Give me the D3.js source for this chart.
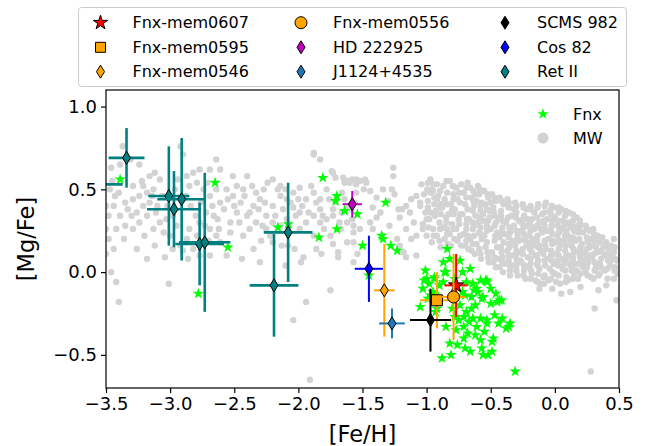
<!DOCTYPE html>
<html>
<head>
<meta charset="utf-8">
<script src="https://cdn.jsdelivr.net/npm/d3@7"></script>
<style>
  body { margin: 0; background: #fff; }
  text { font-family: "DejaVu Sans", sans-serif; fill: #000; }
</style>
</head>
<body>
<div id="chart"></div>
<script>
// Milky Way comparison stars [Fe/H, Mg/Fe]
const mwStars = [
  [-3.37,0.76],[-3.46,0.63],[-3.39,0.65],[-3.31,0.68],[-3.24,0.65],[-3.47,0.50],[-3.43,0.46],[-3.50,0.40],[-3.44,0.40],[-3.35,0.42],
  [-3.29,0.44],[-3.30,0.34],[-3.39,0.34],[-3.48,0.34],[-3.42,0.26],[-3.35,0.28],[-3.50,0.26],[-3.50,0.11],[-3.46,0.00],[-3.42,-0.06],
  [-3.40,-0.18],[-3.29,0.52],[-3.21,0.52],[-3.16,0.58],[-3.12,0.60],[-3.08,0.56],[-3.13,0.50],[-3.18,0.48],[-3.24,0.46],[-3.21,0.40],
  [-3.16,0.42],[-3.11,0.36],[-3.18,0.34],[-3.24,0.30],[-3.29,0.26],[-3.20,0.22],[-3.13,0.26],[-3.08,0.30],[-3.03,0.32],[-3.05,0.24],
  [-3.00,0.22],[-3.18,0.08],[-3.04,0.09],[-3.01,-0.07],[-2.92,0.76],[-2.90,0.71],[-2.87,0.58],[-2.82,0.60],[-2.85,0.52],[-2.79,0.54],
  [-2.77,0.62],[-2.69,0.62],[-2.64,0.68],[-2.61,0.62],[-2.74,0.50],[-2.69,0.46],[-2.64,0.50],[-2.56,0.50],[-2.61,0.42],[-2.72,0.36],
  [-2.66,0.34],[-2.77,0.30],[-2.85,0.26],[-2.79,0.22],[-2.69,0.26],[-2.64,0.22],[-2.61,0.18],[-2.87,0.20],[-2.92,0.16],[-2.90,0.13],
  [-2.82,0.14],[-2.69,0.10],[-2.77,0.10],[-2.70,0.19],[-2.62,0.26],[-2.51,0.46],[-2.48,0.52],[-2.51,0.58],[-2.40,0.58],[-2.43,0.50],
  [-2.45,0.42],[-2.48,0.36],[-2.53,0.30],[-2.40,0.34],[-2.35,0.40],[-2.33,0.48],[-2.27,0.50],[-2.30,0.44],[-2.38,0.26],[-2.43,0.22],
  [-2.35,0.14],[-2.29,0.19],[-2.22,0.22],[-2.20,0.30],[-2.25,0.34],[-2.20,0.40],[-2.14,0.46],[-2.09,0.44],[-2.20,0.56],[-2.14,0.52],
  [-2.10,0.50],[-2.04,0.48],[-1.99,0.51],[-2.04,0.39],[-1.99,0.36],[-1.94,0.44],[-1.88,0.48],[-1.83,0.44],[-1.78,0.50],[-1.83,0.38],
  [-1.88,0.34],[-1.94,0.30],[-1.99,0.26],[-1.88,0.22],[-1.83,0.30],[-1.78,0.32],[-1.73,0.34],[-1.73,0.38],[-1.68,0.30],[-1.75,0.22],
  [-1.73,0.17],[-1.69,0.12],[-1.82,0.11],[-1.96,0.09],[-2.03,0.14],[-1.83,0.68],[-1.73,0.60],[-1.88,0.72],[-1.65,0.57],[-1.60,0.54],
  [-1.55,0.48],[-1.55,0.56],[-1.59,0.38],[-1.62,0.30],[-1.57,0.24],[-1.62,0.18],[-1.94,-0.18],[-2.04,-0.29],[-1.75,-0.11],[-1.91,-0.65],
  [-2.14,0.28],[-2.09,0.32],[-2.20,0.18],[-2.13,0.16],[-2.08,0.16],[-2.25,0.26],
  [-3.45,0.55],[-3.40,0.48],[-3.33,0.38],[-3.26,0.36],[-3.22,0.55],[-3.14,0.46],[-3.10,0.40],[-3.06,0.46],[-3.02,0.40],[-2.98,0.34],
  [-2.95,0.28],[-2.96,0.50],[-2.94,0.56],[-2.88,0.46],[-2.84,0.40],[-2.80,0.34],[-2.76,0.42],[-2.73,0.28],[-2.71,0.54],[-2.67,0.40],
  [-2.63,0.32],[-2.58,0.38],[-2.55,0.44],[-2.53,0.24],[-2.50,0.40],[-2.46,0.30],[-2.42,0.46],[-2.38,0.36],[-2.36,0.52],[-2.33,0.30],
  [-2.31,0.38],[-2.28,0.28],[-2.26,0.42],[-2.24,0.54],[-2.18,0.34],[-2.16,0.50],[-2.12,0.38],[-2.07,0.28],[-2.06,0.42],[-2.02,0.34],
  [-2.00,0.44],[-1.97,0.40],[-1.92,0.36],[-1.90,0.52],[-1.86,0.42],[-1.81,0.34],[-1.80,0.26],[-1.76,0.44],[-1.71,0.42],[-1.69,0.26],
  [-1.66,0.36],[-1.64,0.44],[-1.58,0.32],[-1.56,0.42],[-3.36,0.20],[-3.26,0.14],[-3.12,0.16],[-2.98,0.14],[-2.86,0.08],[-2.56,0.10],
  [-2.44,0.08],[-2.30,0.06],[-2.10,0.04],[-1.98,0.06],[-1.86,0.14],[-3.48,0.20],[-3.44,0.14],
  [-1.64,0.54],[-1.58,0.56],[-1.53,0.55],[-1.48,0.56],[-1.55,0.53],[-1.49,0.50],[-1.44,0.49],[-1.34,0.50],[-1.26,0.63],[-1.26,0.58],
  [-1.27,0.50],[-1.25,0.47],[-1.22,0.38],[-1.19,0.38],[-1.16,0.40],[-1.12,0.44],[-1.08,0.46],[-1.05,0.42],[-1.13,0.36],[-1.10,0.30],
  [-1.16,0.26],[-1.08,0.22],[-1.03,0.26],[-1.00,0.32],[-0.97,0.36],[-0.97,0.48],[-0.99,0.54],[-0.95,0.49],[-0.92,0.44],[-0.90,0.39],
  [-1.57,0.18],[-1.52,0.26],[-1.44,0.30],[-1.39,0.33],[-1.42,0.26],[-1.29,0.28],[-1.23,0.20],[-1.21,0.16],[-1.18,0.12],[-1.16,0.09],
  [-1.08,0.10],[-1.12,0.20],[-1.42,0.39],[-1.36,0.36],[-1.57,0.28],[-1.62,0.38],[-1.39,0.45],[-1.21,0.33],[-1.30,0.43],[-1.67,0.26],
  [-1.66,0.48],[-1.88,0.71],[-1.74,0.61],[-1.71,0.57],[-1.62,0.55],[-1.52,0.55],[-1.47,0.54],[-1.69,0.09],[-1.57,0.06],[-1.54,0.11],
  [-1.04,0.53],[-1.02,0.47],[-1.05,0.40],[-1.01,0.36],[-1.03,0.29],[-1.00,0.22],[-0.99,0.43],
  [-0.97,0.56],[-0.96,0.50],[-0.98,0.32],[-0.95,0.26],[-0.96,0.18],[-0.94,0.41],
  [-0.92,0.53],[-0.91,0.46],[-0.93,0.37],[-0.90,0.30],[-0.92,0.22],[-0.89,0.15],
  [-0.87,0.52],[-0.86,0.44],[-0.88,0.39],[-0.85,0.33],[-0.87,0.27],[-0.86,0.20],[-0.84,0.48],
  [-0.82,0.55],[-0.81,0.41],[-0.83,0.35],[-0.80,0.29],[-0.82,0.23],[-0.81,0.16],[-0.79,0.47],
  [-0.77,0.51],[-0.76,0.44],[-0.78,0.38],[-0.75,0.32],[-0.77,0.26],[-0.76,0.19],[-0.74,0.22],[-0.73,0.53],
  [-0.71,0.48],[-0.70,0.41],[-0.72,0.35],[-0.69,0.29],[-0.71,0.23],[-0.70,0.16],[-0.68,0.54],[-0.68,0.38],
  [-0.66,0.51],[-0.65,0.45],[-0.67,0.32],[-0.64,0.26],[-0.66,0.20],[-0.65,0.13],[-0.63,0.40],[-0.62,0.34],
  [-0.60,0.52],[-0.59,0.47],[-0.61,0.43],[-0.58,0.37],[-0.60,0.30],[-0.59,0.24],[-0.61,0.17],[-0.58,0.11],[-0.57,0.20],
  [-0.55,0.49],[-0.54,0.41],[-0.56,0.35],[-0.53,0.28],[-0.55,0.22],[-0.54,0.15],[-0.52,0.09],[-0.52,0.45],[-0.51,0.33],
  [-0.49,0.47],[-0.48,0.39],[-0.50,0.26],[-0.47,0.19],[-0.49,0.12],[-0.48,0.06],[-0.46,0.43],[-0.46,0.30],[-0.45,0.24],
  [-0.43,0.45],[-0.42,0.37],[-0.44,0.33],[-0.41,0.27],[-0.43,0.21],[-0.42,0.15],[-0.41,0.09],[-0.43,0.03],[-0.40,0.41],[-0.40,0.18],
  [-0.37,0.44],[-0.36,0.39],[-0.38,0.30],[-0.35,0.24],[-0.37,0.13],[-0.36,0.07],[-0.35,0.01],[-0.34,0.34],[-0.33,0.19],[-0.33,0.10],
  [-0.31,0.42],[-0.30,0.36],[-0.32,0.28],[-0.29,0.22],[-0.31,0.16],[-0.30,0.04],[-0.29,-0.02],[-0.28,0.31],[-0.27,0.12],[-0.27,0.07],
  [-0.25,0.41],[-0.24,0.34],[-0.26,0.25],[-0.23,0.19],[-0.25,0.14],[-0.24,0.01],[-0.23,-0.04],[-0.22,0.38],[-0.22,0.28],[-0.21,0.09],
  [-0.19,0.40],[-0.18,0.32],[-0.20,0.22],[-0.17,0.16],[-0.19,0.05],[-0.18,-0.01],[-0.16,0.36],[-0.16,0.26],[-0.15,0.10],[-0.15,-0.05],
  [-0.13,0.41],[-0.12,0.30],[-0.14,0.19],[-0.11,0.13],[-0.13,0.07],[-0.12,0.02],[-0.10,0.35],[-0.10,0.24],[-0.09,-0.03],[-0.11,-0.07],
  [-0.07,0.42],[-0.06,0.32],[-0.08,0.28],[-0.05,0.20],[-0.07,0.14],[-0.06,0.08],[-0.04,0.37],[-0.04,0.02],[-0.03,0.25],[-0.05,-0.05],
  [-0.01,0.39],[0.00,0.33],[-0.02,0.17],[0.01,0.11],[-0.01,0.05],[0.00,-0.01],[0.02,0.28],[0.02,0.22],[0.03,0.14],[0.01,-0.06],
  [0.05,0.38],[0.06,0.31],[0.04,0.25],[0.07,0.19],[0.05,0.08],[0.06,0.02],[0.08,0.34],[0.08,0.13],[0.09,-0.03],[0.04,-0.07],
  [0.11,0.36],[0.12,0.27],[0.10,0.22],[0.13,0.16],[0.11,0.10],[0.12,0.04],[0.14,0.31],[0.14,0.07],[0.15,-0.01],[0.10,-0.05],
  [0.17,0.33],[0.18,0.24],[0.16,0.19],[0.19,0.13],[0.17,0.01],[0.20,0.29],[0.20,0.08],[0.21,0.17],[0.18,-0.04],[0.22,0.03],
  [0.24,0.28],[0.25,0.21],[0.23,0.12],[0.26,0.06],[0.24,0.00],[0.27,0.25],[0.27,0.15],[0.28,-0.03],[0.25,0.10],
  [0.30,0.26],[0.31,0.19],[0.29,0.09],[0.32,0.03],[0.33,0.22],[0.33,0.12],[0.34,-0.02],[0.31,0.06],
  [0.37,0.21],[0.38,0.15],[0.36,0.08],[0.39,0.01],[0.40,0.18],[0.40,0.10],[0.41,-0.04],
  [0.44,0.16],[0.45,0.09],[0.43,0.04],[0.46,0.12],[0.47,0.03],[0.48,0.07],[0.49,-0.01],[0.46,0.20],
  [-0.58,0.27],[-0.56,0.31],[-0.53,0.18],[-0.51,0.37],[-0.47,0.34],[-0.45,0.15],[-0.44,0.08],[-0.41,0.31],[-0.39,0.23],[-0.39,0.05],
  [-0.36,0.17],[-0.34,0.27],[-0.33,0.04],[-0.32,0.38],[-0.30,0.13],[-0.28,0.19],[-0.26,0.30],[-0.26,0.06],[-0.24,0.23],[-0.22,0.16],
  [-0.21,0.32],[-0.20,0.03],[-0.18,0.12],[-0.17,0.27],[-0.17,0.20],[-0.14,0.33],[-0.14,0.05],[-0.12,0.16],[-0.11,0.26],[-0.09,0.11],
  [-0.08,0.19],[-0.08,0.36],[-0.06,0.25],[-0.03,0.10],[-0.02,0.31],[-0.02,0.23],[0.01,0.18],[0.02,0.07],[0.03,0.36],[0.04,0.16],
  [0.06,0.27],[0.07,0.05],[0.08,0.22],[0.09,0.10],[0.10,0.30],[0.12,0.19],[0.13,0.01],[0.15,0.25],[0.15,0.12],[0.16,0.05],
  [0.18,0.28],[0.19,0.20],[0.21,0.11],[0.22,0.24],[0.23,0.06],[0.26,0.18],[0.28,0.10],[0.29,0.20],[0.32,0.15],[0.35,0.18],
  [0.35,0.05],[0.38,0.11],[0.42,0.14],[0.43,0.07],[-0.63,0.22],[-0.62,0.47],[-0.57,0.42],[-0.50,0.42],[-0.74,0.42],[-0.79,0.35],
  [-0.84,0.26],[-0.89,0.35],[-0.69,0.19],[-0.64,0.30],
  [-0.12,-0.10],[0.12,-0.12],[0.34,-0.11],[0.31,-0.22],[0.48,-0.17],[0.46,-0.04],[0.28,-0.60],[-0.02,-0.10],[0.05,-0.13],[0.20,-0.09],
  [0.40,-0.08],
  [-0.995,0.50],[-0.99,0.39],[-0.985,0.27],[-0.945,0.53],[-0.94,0.45],[-0.935,0.34],[-0.945,0.22],[-0.895,0.49],[-0.89,0.41],[-0.895,0.26],
  [-0.90,0.19],[-0.845,0.55],[-0.84,0.41],[-0.845,0.30],[-0.84,0.23],[-0.835,0.17],[-0.795,0.52],[-0.79,0.44],[-0.80,0.38],[-0.79,0.26],
  [-0.785,0.20],[-0.745,0.48],[-0.74,0.35],[-0.745,0.29],[-0.73,0.16],[-0.69,0.51],[-0.69,0.45],[-0.685,0.32],[-0.69,0.26],[-0.68,0.22],
  [-0.675,0.14],[-0.635,0.49],[-0.635,0.43],[-0.64,0.37],[-0.63,0.28],[-0.64,0.17],[-0.625,0.11],[-0.585,0.50],[-0.58,0.40],[-0.585,0.33],
  [-0.58,0.23],[-0.59,0.14],[-0.575,0.08],[-0.525,0.47],[-0.53,0.38],[-0.52,0.31],[-0.53,0.25],[-0.525,0.12],[-0.515,0.06],[-0.47,0.45],
  [-0.475,0.36],[-0.47,0.28],[-0.465,0.22],[-0.47,0.09],[-0.46,0.03],[-0.415,0.43],[-0.42,0.34],[-0.41,0.24],[-0.415,0.12],[-0.41,0.06],
  [-0.405,0.00],[-0.36,0.42],[-0.365,0.33],[-0.355,0.27],[-0.36,0.21],[-0.355,0.15],[-0.36,0.10],[-0.35,0.04],[-0.35,-0.02],[-0.30,0.40],
  [-0.305,0.33],[-0.30,0.25],[-0.295,0.19],[-0.305,0.10],[-0.295,0.07],[-0.30,0.01],[-0.245,0.39],[-0.25,0.32],[-0.245,0.27],[-0.24,0.20],
  [-0.25,0.11],[-0.24,0.04],[-0.245,-0.02],[-0.19,0.38],[-0.195,0.30],[-0.19,0.25],[-0.185,0.18],[-0.195,0.14],[-0.19,0.08],[-0.185,0.01],
  [-0.19,-0.04],[-0.135,0.39],[-0.14,0.28],[-0.135,0.22],[-0.13,0.15],[-0.14,0.10],[-0.135,0.04],[-0.13,-0.01],[-0.135,-0.06],[-0.08,0.40],
  [-0.085,0.31],[-0.08,0.25],[-0.075,0.16],[-0.08,0.07],[-0.075,0.04],[-0.08,-0.02],[-0.085,-0.07],[-0.025,0.40],[-0.03,0.35],[-0.025,0.28],
  [-0.02,0.19],[-0.03,0.13],[-0.025,0.07],[-0.02,0.00],[-0.03,-0.04],[0.03,0.39],[0.025,0.31],[0.03,0.24],[0.035,0.19],[0.03,0.10],
  [0.025,0.04],[0.03,-0.02],[0.085,0.37],[0.08,0.29],[0.09,0.25],[0.085,0.16],[0.09,0.07],[0.08,0.01],[0.085,-0.06],[0.14,0.35],
  [0.135,0.28],[0.14,0.21],[0.145,0.14],[0.14,0.09],[0.135,0.02],[0.14,-0.04],[0.195,0.31],[0.19,0.26],[0.20,0.15],[0.195,0.10],
  [0.19,0.05],[0.20,-0.01],[0.25,0.26],[0.255,0.19],[0.25,0.14],[0.245,0.08],[0.25,0.03],[0.255,-0.02],[0.305,0.23],[0.30,0.16],
  [0.305,0.11],[0.31,0.01],[0.30,-0.04],[0.355,0.21],[0.355,0.13],[0.36,0.03],[0.35,-0.01],[0.41,0.16],[0.415,0.07],[0.41,0.02],
  [0.42,0.11],[0.465,0.15],[0.47,0.08],[0.465,0.01]
];

// Fornax stars [Fe/H, Mg/Fe]
const fnxStars = [
  [-3.39,0.56],[-2.65,0.54],[-2.55,0.15],[-2.78,-0.13],[-2.16,0.27],[-2.08,0.29],[-1.81,0.57],[-1.70,0.46],[-1.71,0.43],[-1.64,0.37],
  [-1.84,0.21],[-1.70,0.26],[-1.54,0.35],[-1.50,0.16],[-1.32,0.42],[-1.35,0.22],[-1.34,0.20],[-1.28,0.16],[-1.23,0.13],[-1.45,-0.02],
  [-0.84,0.14],[-0.87,0.06],[-0.82,0.08],[-0.74,0.07],[-1.01,0.01],[-1.00,-0.04],[-0.94,-0.04],[-0.94,-0.03],[-0.86,0.00],[-0.85,0.00],
  [-0.78,-0.04],[-0.69,-0.06],[-0.64,-0.07],[-0.58,-0.05],[-0.53,-0.05],[-0.54,-0.05],[-0.53,-0.06],[-0.90,-0.08],[-1.03,-0.10],[-0.99,-0.16],
  [-0.97,-0.14],[-0.70,-0.14],[-0.65,-0.15],[-0.56,-0.15],[-0.57,-0.16],[-0.61,-0.10],[-0.50,-0.19],[-0.45,-0.18],[-0.43,-0.17],[-0.415,-0.17],
  [-0.74,-0.20],[-0.69,-0.24],[-0.65,-0.22],[-0.71,-0.27],[-0.64,-0.28],[-0.58,-0.28],[-0.53,-0.29],[-0.53,-0.31],[-0.44,-0.31],[-0.35,-0.31],
  [-0.38,-0.34],[-0.36,-0.33],[-0.75,-0.29],[-0.71,-0.33],[-0.77,-0.35],[-0.68,-0.37],[-0.71,-0.40],[-0.58,-0.41],[-0.48,-0.40],[-0.49,-0.42],
  [-0.82,-0.43],[-0.66,-0.48],[-0.57,-0.46],[-0.52,-0.50],[-0.49,-0.48],[-0.56,-0.50],[-0.81,-0.50],[-0.88,-0.52],[-0.31,-0.60],[-0.92,-0.22],
  [-1.05,-0.21],[-0.93,-0.24],[-0.87,-0.06],[-0.63,-0.11],[-0.60,-0.12],[-0.62,-0.20],
  [-0.98,-0.07],[-0.95,-0.12],[-0.91,-0.15],[-0.80,-0.22],[-0.78,-0.27],[-0.72,-0.12],[-0.67,-0.30],[-0.61,-0.33],[-0.55,-0.36],[-0.62,-0.38],
  [-0.47,-0.26],[-0.41,-0.28],[-0.50,-0.10],[-0.46,-0.13],[-0.76,-0.44],[-0.70,-0.46],[-0.85,-0.33],[-1.02,-0.05],[-0.66,0.02],[-0.72,0.00]
];

// individual stars with error bars
const starNames = ['Fnx-mem0607','Fnx-mem0595','Fnx-mem0546','Fnx-mem0556','HD 222925','J1124+4535','SCMS 982','Cos 82'];
const starFeH    = [-0.77, -0.92, -1.33, -0.79, -1.58, -1.27, -0.97, -1.45];
const starMgFe   = [-0.08, -0.17, -0.11, -0.15,  0.41, -0.31, -0.29,  0.02];
const starFeHErr = [ 0.09,  0.13,  0.08,  0.09,  0.075, 0.10,  0.16,  0.11];
const starMgFeErr= [ 0.19,  0.17,  0.28,  0.26,  0.08,  0.09,  0.19,  0.20];

// Ret II stars
const retFeH     = [-3.34, -3.01, -2.91, -2.97, -2.77, -2.73, -2.08, -2.19, -3.62];
const retMgFe    = [ 0.69,  0.46,  0.44,  0.38,  0.17,  0.18,  0.24, -0.08,  0.53];
const retFeHErr  = [ 0.14,  0.16,  0.19,  0.21,  0.19,  0.20,  0.19,  0.19,  0.25];
const retMgFeErr = [ 0.18,  0.30,  0.37,  0.23,  0.25,  0.42,  0.30,  0.31,  0.25];

const xTicks = [-3.5, -3.0, -2.5, -2.0, -1.5, -1.0, -0.5, 0.0, 0.5];
const yTicks = [-0.5, 0.0, 0.5, 1.0];

// styles
const starColors  = ['red', 'orange', 'orange', 'orange', '#bf00bf', '#1f77b4', 'black', 'blue'];
const starMarkers = ['star', 'square', 'diamond', 'circle', 'diamond', 'diamond', 'diamond', 'diamond'];
const retColor = 'teal';

const W = 647, H = 446,
      L = 106, R = 619, T = 90, B = 388;

const x = d3.scaleLinear().domain([-3.5, 0.5]).range([L, R]),
      y = d3.scaleLinear().domain([-0.7, 1.1]).range([B, T]);

function starPath(r) {
  let p = [];
  for (let i = 0; i < 10; i++) {
    let a = Math.PI / 5 * i - Math.PI / 2,
        rr = i % 2 ? r * 0.382 : r;
    p.push([rr * Math.cos(a), rr * Math.sin(a)]);
  }
  return 'M' + p.join('L') + 'Z';
}
function diamondPath(h) {
  let w = h * 0.62;
  return `M0,${-h/2}L${w/2},0L0,${h/2}L${-w/2},0Z`;
}
function markerPath(kind, big) {
  if (kind === 'star') return starPath(big ? 8 : 7.5);
  if (kind === 'square') return 'M-5.5,-5.5H5.5V5.5H-5.5Z';
  if (kind === 'circle') return d3.symbol(d3.symbolCircle, Math.PI * 36)();
  return diamondPath(13);
}

const svg = d3.select('#chart').append('svg')
  .attr('width', W).attr('height', H)
  .attr('viewBox', `0 0 ${W} ${H}`);

svg.append('rect').attr('width', W).attr('height', H).attr('fill', '#fff');

svg.append('defs').append('clipPath').attr('id', 'plotclip')
  .append('rect').attr('x', L).attr('y', T).attr('width', R - L).attr('height', B - T);

const plot = svg.append('g').attr('clip-path', 'url(#plotclip)');

// MW
plot.append('g').selectAll('circle').data(mwStars).join('circle')
  .attr('cx', d => x(d[0])).attr('cy', d => y(d[1]))
  .attr('r', 3.2).attr('fill', 'lightgray');

// Fnx
const smallStar = starPath(6);
plot.append('g').selectAll('path').data(fnxStars).join('path')
  .attr('transform', d => `translate(${x(d[0])},${y(d[1])})`)
  .attr('d', smallStar).attr('fill', 'lime');

// error bars + markers
function errBar(g, fx, fy, ex, ey, color, width) {
  g.append('line').attr('x1', x(fx - ex)).attr('x2', x(fx + ex))
    .attr('y1', y(fy)).attr('y2', y(fy))
    .attr('stroke', color).attr('stroke-width', width);
  g.append('line').attr('x1', x(fx)).attr('x2', x(fx))
    .attr('y1', y(fy - ey)).attr('y2', y(fy + ey))
    .attr('stroke', color).attr('stroke-width', width);
}

starNames.forEach((n, i) => {
  let g = plot.append('g').attr('class', 'star');
  errBar(g, starFeH[i], starMgFe[i], starFeHErr[i], starMgFeErr[i], starColors[i], 2);
  g.append('path')
    .attr('transform', `translate(${x(starFeH[i])},${y(starMgFe[i])})`)
    .attr('d', markerPath(starMarkers[i], true))
    .attr('fill', starColors[i]).attr('stroke', '#000').attr('stroke-width', 1);
});

retFeH.forEach((v, i) => {
  let g = plot.append('g').attr('class', 'ret');
  errBar(g, v, retMgFe[i], retFeHErr[i], retMgFeErr[i], retColor, 2.6);
  g.append('path')
    .attr('transform', `translate(${x(v)},${y(retMgFe[i])})`)
    .attr('d', diamondPath(13))
    .attr('fill', retColor).attr('stroke', '#000').attr('stroke-width', 1);
});

// axes
const xAxis = svg.append('g').attr('transform', `translate(0,${B})`)
  .call(d3.axisBottom(x).tickValues(xTicks).tickFormat(d3.format('.1f')).tickSize(5).tickPadding(4));
const yAxis = svg.append('g').attr('transform', `translate(${L},0)`)
  .call(d3.axisLeft(y).tickValues(yTicks).tickFormat(d3.format('.1f')).tickSize(5).tickPadding(4));
[xAxis, yAxis].forEach(a => {
  a.select('.domain').remove();
  a.selectAll('.tick line').attr('stroke', '#000').attr('stroke-width', 1.2);
  a.selectAll('.tick text').attr('font-size', 18).attr('font-family', '"DejaVu Sans", sans-serif').attr('fill', '#000');
});

svg.append('rect').attr('x', L).attr('y', T).attr('width', R - L).attr('height', B - T)
  .attr('fill', 'none').attr('stroke', '#000').attr('stroke-width', 1.2);

svg.append('text').attr('x', (L + R) / 2).attr('y', 442)
  .attr('text-anchor', 'middle').attr('font-size', 22.5).text('[Fe/H]');
svg.append('text').attr('transform', `translate(34,${(T + B) / 2}) rotate(-90)`)
  .attr('text-anchor', 'middle').attr('font-size', 22.5).text('[Mg/Fe]');

// inner legend
const inner = svg.append('g');
inner.append('path').attr('transform', 'translate(543,114)').attr('d', smallStar).attr('fill', 'lime');
inner.append('circle').attr('cx', 543).attr('cy', 138).attr('r', 5.5).attr('fill', 'lightgray');
inner.append('text').attr('x', 573).attr('y', 114).attr('dy', '0.35em').attr('font-size', 16).text('Fnx');
inner.append('text').attr('x', 573).attr('y', 138).attr('dy', '0.35em').attr('font-size', 16).text('MW');

// top legend
const legNames = starNames.concat(['Ret II']);
const leg = svg.append('g');
leg.append('rect').attr('x', 78.5).attr('y', 7.5).attr('width', 548).attr('height', 79)
  .attr('rx', 3).attr('fill', '#fff').attr('fill-opacity', 0.8)
  .attr('stroke', '#ccc').attr('stroke-width', 1);
const colX = [100.5, 301, 505], rowY = [22.7, 47.3, 71.7];
legNames.forEach((n, k) => {
  let c = Math.floor(k / 3), r = k % 3,
      kind = k < starNames.length ? starMarkers[k] : 'diamond',
      col = k < starNames.length ? starColors[k] : retColor;
  leg.append('path').attr('transform', `translate(${colX[c]},${rowY[r]})`)
    .attr('d', kind === 'square' ? 'M-5,-5H5V5H-5Z' : markerPath(kind, false))
    .attr('fill', col).attr('stroke', '#000').attr('stroke-width', 1);
  leg.append('text').attr('x', colX[c] + 32).attr('y', rowY[r]).attr('dy', '0.36em')
    .attr('font-size', 16).text(n);
});
</script>
</body>
</html>
